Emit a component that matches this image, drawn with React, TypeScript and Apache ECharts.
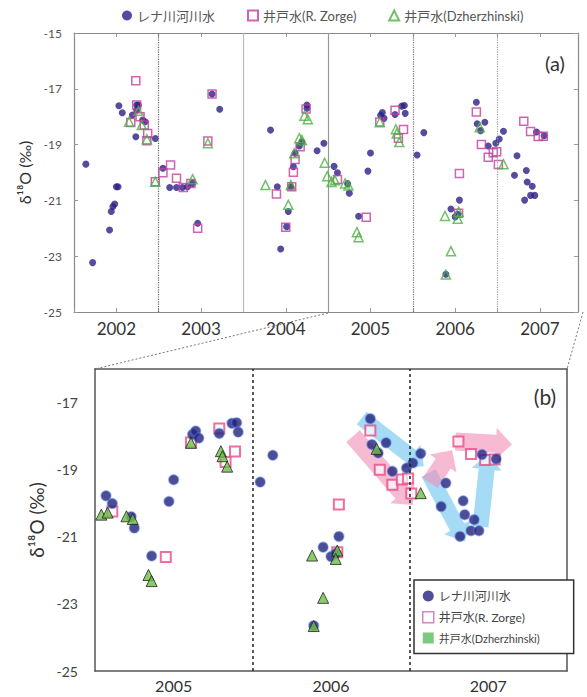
import React, { useEffect, useRef } from 'react';
import * as echarts from 'echarts';

// [decimal year, δ18O ‰]
const lenaRiver: [number, number][] = [
  [2001.64, -19.70], [2001.72, -23.23], [2001.92, -22.06], [2001.94, -21.40], [2001.96, -21.22],
  [2001.98, -21.13], [2002.00, -20.51], [2002.02, -20.51], [2002.03, -17.61], [2002.07, -17.86],
  [2002.19, -17.94], [2002.23, -18.72], [2002.24, -17.58], [2002.26, -17.58], [2002.24, -17.76],
  [2002.31, -18.12], [2002.34, -18.18], [2002.46, -18.78], [2002.55, -19.85], [2002.63, -20.54],
  [2002.71, -20.54], [2002.78, -20.54], [2002.84, -20.51], [2002.90, -20.39], [2002.96, -21.82],
  [2003.13, -17.19], [2003.22, -17.73], [2003.82, -18.48], [2003.90, -20.51], [2003.94, -22.74],
  [2004.01, -21.94], [2004.03, -21.40], [2004.06, -20.51], [2004.09, -19.79], [2004.11, -19.31],
  [2004.16, -19.05], [2004.19, -18.90], [2004.25, -17.58], [2004.25, -17.70], [2004.37, -19.22],
  [2004.45, -18.95], [2004.57, -19.78], [2004.61, -20.01], [2004.73, -20.40], [2004.75, -20.74],
  [2004.86, -21.57], [2004.97, -19.95], [2005.00, -19.30], [2005.12, -17.95], [2005.14, -17.85],
  [2005.16, -18.06], [2005.29, -17.92], [2005.37, -17.62], [2005.40, -17.60], [2005.41, -17.88],
  [2005.55, -19.37], [2005.63, -18.57], [2005.89, -23.65], [2005.95, -21.31], [2006.00, -21.59],
  [2006.03, -21.50], [2006.05, -20.99], [2006.25, -17.48], [2006.26, -18.25], [2006.30, -18.50],
  [2006.35, -18.20], [2006.39, -19.05], [2006.48, -18.95], [2006.52, -18.80], [2006.57, -18.52],
  [2006.70, -20.10], [2006.73, -19.40], [2006.82, -20.99], [2006.84, -19.93], [2006.85, -20.34],
  [2006.89, -20.82], [2006.91, -20.49], [2006.94, -20.82], [2006.96, -18.55], [2007.05, -18.68],
];

const wellZorge: [number, number][] = [
  [2002.17, -18.21], [2002.23, -16.71], [2002.24, -17.58], [2002.28, -18.00], [2002.33, -18.30],
  [2002.36, -18.86], [2002.37, -18.60], [2002.46, -20.33], [2002.55, -20.01], [2002.64, -19.73],
  [2002.71, -20.21], [2002.79, -20.54], [2002.88, -20.39], [2002.96, -22.00], [2003.08, -18.87],
  [2003.13, -17.19], [2003.89, -20.77], [2004.00, -21.96], [2004.07, -20.51], [2004.09, -19.99],
  [2004.11, -19.53], [2004.17, -19.08], [2004.24, -17.72], [2004.61, -20.25], [2004.95, -21.60],
  [2005.11, -18.19], [2005.29, -17.77], [2005.33, -18.77], [2005.39, -18.46], [2006.04, -21.46],
  [2006.05, -20.04], [2006.25, -17.83], [2006.31, -19.00], [2006.39, -19.45], [2006.45, -19.29],
  [2006.49, -19.26], [2006.51, -19.71], [2006.81, -18.16], [2006.89, -18.53], [2006.98, -18.71],
  [2007.04, -18.70],
];

const wellDzherzhinski: [number, number][] = [
  [2002.15, -18.18], [2002.26, -17.79], [2002.30, -18.30], [2002.36, -18.81], [2002.46, -20.33],
  [2002.90, -20.24], [2003.08, -18.95], [2003.76, -20.45], [2004.03, -21.16], [2004.06, -20.45],
  [2004.10, -19.31], [2004.16, -18.77], [2004.19, -18.84], [2004.22, -17.97], [2004.26, -18.09],
  [2004.46, -19.65], [2004.49, -20.13], [2004.54, -20.34], [2004.58, -20.28], [2004.70, -20.39],
  [2004.74, -20.47], [2004.84, -22.14], [2004.86, -22.32], [2005.11, -18.20], [2005.30, -18.45],
  [2005.31, -18.60], [2005.34, -18.91], [2005.88, -21.56], [2005.89, -23.66], [2005.95, -22.82],
  [2006.04, -21.41], [2006.03, -21.66], [2006.29, -18.38], [2006.57, -19.70],
];

const seriesNames = ['レナ川河川水', '井戸水(R. Zorge)', '井戸水(Dzherzhinski)'];

// vertical year-separator lines
const dividersA = [2002.5, 2003.5, 2004.5, 2005.5, 2006.5];
const dividerStylesA = ['dotted', 'solid', 'solid', 'dotted', 'dotted'];
const dividerColorsA = ['#666', '#bbb', '#999', '#777', '#999'];
const dividersB = [2005.5, 2006.5];

// annotation arrows (tail x, tail y, tip x, tip y) in data units
const blueArrows: number[][] = [
  [2006.195, -17.46, 2006.59, -18.90],
  [2006.62, -19.10, 2006.85, -21.14],
  [2006.95, -20.70, 2007.0, -18.52],
];
const pinkArrows: number[][] = [
  [2006.14, -18.0, 2006.52, -20.05],
  [2006.63, -19.40, 2006.77, -18.42],
  [2006.79, -18.16, 2007.15, -18.25],
];

const FONT = "Lato, 'Noto Sans CJK JP', sans-serif";

const isInt = (v: number) => Math.abs(v - Math.round(v)) < 1e-6;
const yearFmt = (v: number) => (isInt(v) ? String(Math.round(v)) : '');
const inB = (p: [number, number]) => p[0] >= 2004.5 && p[0] <= 2007.5;

function arrowRenderer(color: string, shaft: number, head: number, headLen: number) {
  return (params: any, api: any) => {
    const a = api.coord([api.value(0), api.value(1)]);
    const b = api.coord([api.value(2), api.value(3)]);
    const dx = b[0] - a[0];
    const dy = b[1] - a[1];
    const len = Math.hypot(dx, dy) || 1;
    const ux = dx / len;
    const uy = dy / len;
    const nx = -uy;
    const ny = ux;
    const hl = Math.min(headLen, len * 0.45);
    const bx = b[0] - ux * hl;
    const by = b[1] - uy * hl;
    const pts = [
      [a[0] + nx * shaft, a[1] + ny * shaft],
      [bx + nx * shaft, by + ny * shaft],
      [bx + nx * head, by + ny * head],
      [b[0], b[1]],
      [bx - nx * head, by - ny * head],
      [bx - nx * shaft, by - ny * shaft],
      [a[0] - nx * shaft, a[1] - ny * shaft],
    ];
    return { type: 'polygon', shape: { points: pts }, style: { fill: color } };
  };
}

export default function App() {
  const ref = useRef<HTMLDivElement>(null);
  useEffect(() => {
    if (!ref.current) return;
    const chart = echarts.init(ref.current, undefined, { renderer: 'svg' });

    const gridA = { left: 74, top: 33, width: 504, height: 279 };
    const gridB = { left: 95, top: 369, width: 472, height: 302 };

    const option: any = {
      animation: false,
      backgroundColor: '#ffffff',
      textStyle: { fontFamily: FONT },
      grid: [gridA, gridB],
      legend: [
        {
          left: 122,
          top: 9,
          padding: 0,
          itemGap: 32,
          itemWidth: 10,
          itemHeight: 10,
          textStyle: { fontSize: 13, color: '#555', fontFamily: FONT },
          data: [
            { name: seriesNames[0], icon: 'circle' },
            { name: seriesNames[1], icon: 'rect' },
            { name: seriesNames[2], icon: 'triangle' },
          ],
        },
        {
          orient: 'vertical',
          left: 414,
          top: 580,
          padding: [10, 34, 10, 8],
          itemGap: 9,
          itemWidth: 11,
          itemHeight: 11,
          borderColor: '#333',
          borderWidth: 1.5,
          backgroundColor: '#fff',
          textStyle: { fontSize: 12, color: '#444', fontFamily: FONT },
          data: [
            { name: seriesNames[0], icon: 'circle', itemStyle: { color: '#23237d', borderWidth: 0 } },
            {
              name: seriesNames[1],
              icon: 'rect',
              itemStyle: { color: '#fff', borderColor: '#c46ab8', borderWidth: 1.5 },
            },
            {
              name: seriesNames[2],
              icon: 'rect',
              itemStyle: { color: '#5cbb5c', borderWidth: 0 },
              textStyle: { fontSize: 11 },
            },
          ],
        },
      ],
      xAxis: [
        {
          gridIndex: 0, type: 'value', min: 2001.5, max: 2007.45, interval: 0.5,
          axisLine: { show: true, lineStyle: { color: '#888', width: 1.2 } },
          axisTick: { show: true, inside: true, length: 4, lineStyle: { color: '#999' } },
          axisLabel: { formatter: yearFmt, fontSize: 17, color: '#333', margin: 8, showMaxLabel: false },
          splitLine: { show: false },
        },
        {
          gridIndex: 0, type: 'value', position: 'top', min: 2001.5, max: 2007.45, interval: 0.5,
          axisLine: { show: true, lineStyle: { color: '#888', width: 1.2 } },
          axisTick: { show: true, inside: true, length: 4, lineStyle: { color: '#999' } },
          axisLabel: { show: false },
          splitLine: { show: false },
        },
        {
          gridIndex: 1, type: 'value', min: 2004.5, max: 2007.5, interval: 0.5,
          axisLine: { show: true, lineStyle: { color: '#555', width: 1.5 } },
          axisTick: { show: false },
          axisLabel: { formatter: yearFmt, fontSize: 16, color: '#333', margin: 6 },
          splitLine: { show: false },
        },
        {
          gridIndex: 1, type: 'value', position: 'top', min: 2004.5, max: 2007.5,
          axisLine: { show: true, lineStyle: { color: '#555', width: 1.5 } },
          axisTick: { show: false },
          axisLabel: { show: false },
          splitLine: { show: false },
        },
      ],
      yAxis: [
        {
          gridIndex: 0, type: 'value', min: -25, max: -15, interval: 2,
          name: 'δ¹⁸O (‰)', nameLocation: 'middle', nameGap: 40,
          nameTextStyle: { fontSize: 16, color: '#333', fontFamily: FONT },
          axisLine: { show: true, lineStyle: { color: '#888', width: 1.2 } },
          axisTick: { show: true, inside: true, length: 4, lineStyle: { color: '#999' } },
          axisLabel: { fontSize: 12, color: '#555', margin: 12 },
          splitLine: { show: false },
        },
        {
          gridIndex: 0, type: 'value', position: 'right', min: -25, max: -15, interval: 2,
          axisLine: { show: true, lineStyle: { color: '#888', width: 1.2 } },
          axisTick: { show: true, inside: true, length: 4, lineStyle: { color: '#999' } },
          axisLabel: { show: false },
          splitLine: { show: false },
        },
        {
          gridIndex: 1, type: 'value', min: -25, max: -16, interval: 2,
          name: 'δ¹⁸O (‰)', nameLocation: 'middle', nameGap: 42,
          nameTextStyle: { fontSize: 19, color: '#333', fontFamily: FONT },
          axisLine: { show: true, lineStyle: { color: '#555', width: 1.5 } },
          axisTick: { show: false },
          axisLabel: { fontSize: 14, color: '#444', margin: 17, showMaxLabel: false },
          splitLine: { show: false },
        },
        {
          gridIndex: 1, type: 'value', position: 'right', min: -25, max: -16,
          axisLine: { show: true, lineStyle: { color: '#555', width: 1.5 } },
          axisTick: { show: false },
          axisLabel: { show: false },
          splitLine: { show: false },
        },
      ],
      series: [
        // ---- panel (a)
        {
          name: seriesNames[0], type: 'scatter', xAxisIndex: 0, yAxisIndex: 0,
          data: lenaRiver, symbol: 'circle', symbolSize: 7,
          itemStyle: { color: '#2c1f85' }, z: 3,
          markLine: {
            silent: true, symbol: 'none', label: { show: false }, animation: false,
            data: dividersA.map((x, i) => ({
              xAxis: x,
              lineStyle: { type: dividerStylesA[i], color: dividerColorsA[i], width: 1.2 },
            })),
          },
        },
        {
          name: seriesNames[1], type: 'scatter', xAxisIndex: 0, yAxisIndex: 0,
          data: wellZorge, symbol: 'rect', symbolSize: 8,
          itemStyle: { color: 'rgba(255,255,255,0)', borderColor: '#c23c9e', borderWidth: 1.5 }, z: 4,
        },
        {
          name: seriesNames[2], type: 'scatter', xAxisIndex: 0, yAxisIndex: 0,
          data: wellDzherzhinski, symbol: 'triangle', symbolSize: 9,
          itemStyle: { color: 'rgba(255,255,255,0)', borderColor: '#4fb045', borderWidth: 1.5 }, z: 5,
        },
        // ---- panel (b) arrows
        {
          name: 'blue-arrows', type: 'custom', xAxisIndex: 2, yAxisIndex: 2,
          data: blueArrows, encode: { x: [0, 2], y: [1, 3] }, z: 1, silent: true,
          renderItem: arrowRenderer('rgba(105,195,238,0.6)', 8, 15, 16),
        },
        {
          name: 'pink-arrows', type: 'custom', xAxisIndex: 2, yAxisIndex: 2,
          data: pinkArrows, encode: { x: [0, 2], y: [1, 3] }, z: 1, silent: true,
          renderItem: arrowRenderer('rgba(242,140,182,0.6)', 9, 16, 16),
        },
        // ---- panel (b) points
        {
          name: seriesNames[1], type: 'scatter', xAxisIndex: 2, yAxisIndex: 2,
          data: wellZorge.filter(inB), symbol: 'rect', symbolSize: 10,
          itemStyle: { color: 'rgba(255,255,255,0.85)', borderColor: '#ea4a86', borderWidth: 2 }, z: 3,
          markLine: {
            silent: true, symbol: 'none', label: { show: false }, animation: false,
            data: dividersB.map((x) => ({ xAxis: x, lineStyle: { type: [3, 3], color: '#222', width: 1.5 } })),
          },
        },
        {
          name: seriesNames[0], type: 'scatter', xAxisIndex: 2, yAxisIndex: 2,
          data: lenaRiver.filter(inB), symbol: 'circle', symbolSize: 10,
          itemStyle: { color: '#20207a', borderColor: 'rgba(90,130,230,0.55)', borderWidth: 1.5 }, z: 4,
        },
        {
          name: seriesNames[2], type: 'scatter', xAxisIndex: 2, yAxisIndex: 2,
          data: wellDzherzhinski.filter(inB), symbol: 'triangle', symbolSize: 11,
          itemStyle: { color: '#6cbf45', borderColor: '#222', borderWidth: 1 }, z: 5,
        },
      ],
      graphic: [
        {
          type: 'text', x: 555, y: 63, z: 10,
          style: { text: '(a)', fontSize: 20, fontFamily: FONT, fill: '#333', align: 'center', verticalAlign: 'middle' },
        },
        {
          type: 'text', x: 545, y: 396, z: 10,
          style: { text: '(b)', fontSize: 21, fontFamily: FONT, fill: '#333', align: 'center', verticalAlign: 'middle' },
        },
        {
          type: 'line', z: 10,
          shape: { x1: 328, y1: 313, x2: 95, y2: 369 },
          style: { stroke: '#777', lineWidth: 1, lineDash: [2, 2] },
        },
        {
          type: 'line', z: 10,
          shape: { x1: 583, y1: 312, x2: 567, y2: 369 },
          style: { stroke: '#777', lineWidth: 1, lineDash: [2, 2] },
        },
      ],
    };

    chart.setOption(option);
    return () => chart.dispose();
  }, []);

  return (
    <div
      ref={ref}
      style={{ position: 'fixed', left: 0, top: 0, width: 587, height: 697, background: '#fff' }}
    />
  );
}
